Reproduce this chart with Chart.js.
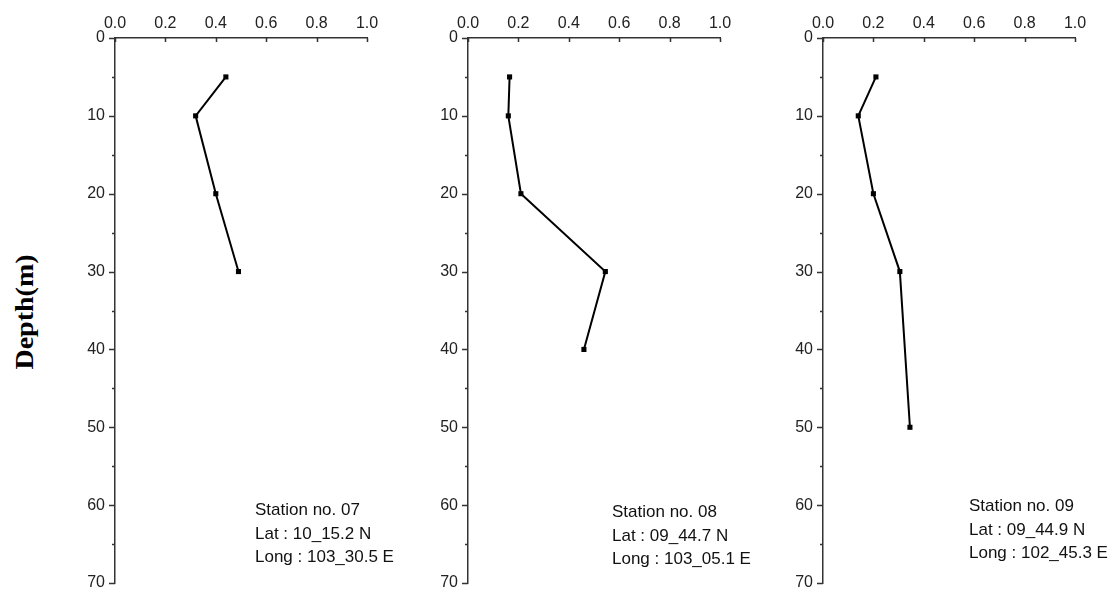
<!DOCTYPE html>
<html>
<head>
<meta charset="utf-8">
<script src="https://cdn.jsdelivr.net/npm/chart.js@4.4.0/dist/chart.umd.min.js"></script>
<style>
  html, body { margin: 0; padding: 0; background: #ffffff; }
  body { width: 1116px; height: 593px; position: relative; overflow: hidden; }
  .panel { position: absolute; top: 0; width: 330px; height: 593px; }
  .station { position: absolute; font-family: "Liberation Sans", Arial, sans-serif; font-size: 17px; line-height: 23.5px; color: #111; white-space: nowrap; }
  #ylabel { position: absolute; left: 25px; top: 312px; transform: translate(-50%, -50%) rotate(-90deg) scaleX(1.12);
            font-family: "Liberation Serif", "Times New Roman", serif; font-weight: bold; font-size: 25px; color: #000; white-space: nowrap; }
</style>
</head>
<body>
<div class="panel" style="left:60px"><canvas id="c1" width="330" height="593"></canvas></div>
<div class="panel" style="left:413px"><canvas id="c2" width="330" height="593"></canvas></div>
<div class="panel" style="left:768px"><canvas id="c3" width="330" height="593"></canvas></div>
<div id="ylabel">Depth(m)</div>
<div class="station" style="left:255px; top:498px">Station no. 07<br>Lat : 10_15.2 N<br>Long : 103_30.5 E</div>
<div class="station" style="left:612px; top:500px">Station no. 08<br>Lat : 09_44.7 N<br>Long : 103_05.1 E</div>
<div class="station" style="left:969px; top:494px">Station no. 09<br>Lat : 09_44.9 N<br>Long : 102_45.3 E</div>
<script>
// ---- data ----
const depths07 = [5, 10, 20, 30];
const values07 = [0.44, 0.32, 0.40, 0.49];
const depths08 = [5, 10, 20, 30, 40];
const values08 = [0.165, 0.16, 0.21, 0.545, 0.46];
const depths09 = [5, 10, 20, 30, 50];
const values09 = [0.21, 0.14, 0.20, 0.305, 0.345];
const xTicks = [0, 0.2, 0.4, 0.6, 0.8, 1.0];
const yMajorTicks = [0, 10, 20, 30, 40, 50, 60, 70];
const yMinorTicks = [5, 15, 25, 35, 45, 55, 65];

const axisColor = '#333333';
const tickFont = { family: '"Liberation Sans", Arial, sans-serif', size: 16 };

const tickMarks = {
  id: 'tickMarks',
  afterDraw(chart) {
    const ctx = chart.ctx;
    const xs = chart.scales.x, ys = chart.scales.y;
    const top = chart.chartArea.top, left = chart.chartArea.left;
    ctx.save();
    ctx.strokeStyle = axisColor;
    ctx.lineWidth = 1.5;
    ctx.beginPath();
    xTicks.forEach(v => { const p = Math.round(xs.getPixelForValue(v)) + 0.5; ctx.moveTo(p, top); ctx.lineTo(p, top + 4); });
    yMajorTicks.forEach(v => { const p = Math.round(ys.getPixelForValue(v)) + 0.5; ctx.moveTo(left - 6, p); ctx.lineTo(left, p); });
    yMinorTicks.forEach(v => { const p = Math.round(ys.getPixelForValue(v)) + 0.5; ctx.moveTo(left - 3, p); ctx.lineTo(left, p); });
    ctx.stroke();
    ctx.restore();
  }
};

function makeChart(id, depths, values) {
  const pts = depths.map((d, i) => ({ x: values[i], y: d }));
  return new Chart(document.getElementById(id), {
    type: 'scatter',
    data: { datasets: [{
      data: pts, showLine: true, borderColor: '#000', borderWidth: 2,
      pointStyle: 'rect', pointRadius: 3.6, pointBackgroundColor: '#000', pointBorderColor: '#000', pointBorderWidth: 0
    }] },
    options: {
      responsive: false, animation: false, devicePixelRatio: 1,
      layout: { padding: { left: 0, top: 0, right: 23, bottom: 10 } },
      plugins: { legend: { display: false }, tooltip: { enabled: false } },
      scales: {
        x: {
          type: 'linear', position: 'top', min: 0, max: 1,
          afterBuildTicks: s => { s.ticks = xTicks.map(v => ({ value: v })); },
          afterFit: s => { s.height = 38; },
          grid: { display: false, drawTicks: false },
          border: { display: true, color: axisColor, width: 1.5 },
          ticks: { font: tickFont, color: '#222', padding: 5, maxRotation: 0, autoSkip: false,
                   callback: v => v.toFixed(1) }
        },
        y: {
          type: 'linear', position: 'left', min: 0, max: 70, reverse: true,
          afterBuildTicks: s => { s.ticks = yMajorTicks.map(v => ({ value: v })); },
          afterFit: s => { s.width = 55; s.paddingTop = 0; s.paddingBottom = 0; },
          grid: { display: false, drawTicks: false },
          border: { display: true, color: axisColor, width: 1.5 },
          ticks: { font: tickFont, color: '#222', padding: 10, autoSkip: false, callback: v => String(v) }
        }
      }
    },
    plugins: [tickMarks]
  });
}

makeChart('c1', depths07, values07);
makeChart('c2', depths08, values08);
makeChart('c3', depths09, values09);
</script>
</body>
</html>
